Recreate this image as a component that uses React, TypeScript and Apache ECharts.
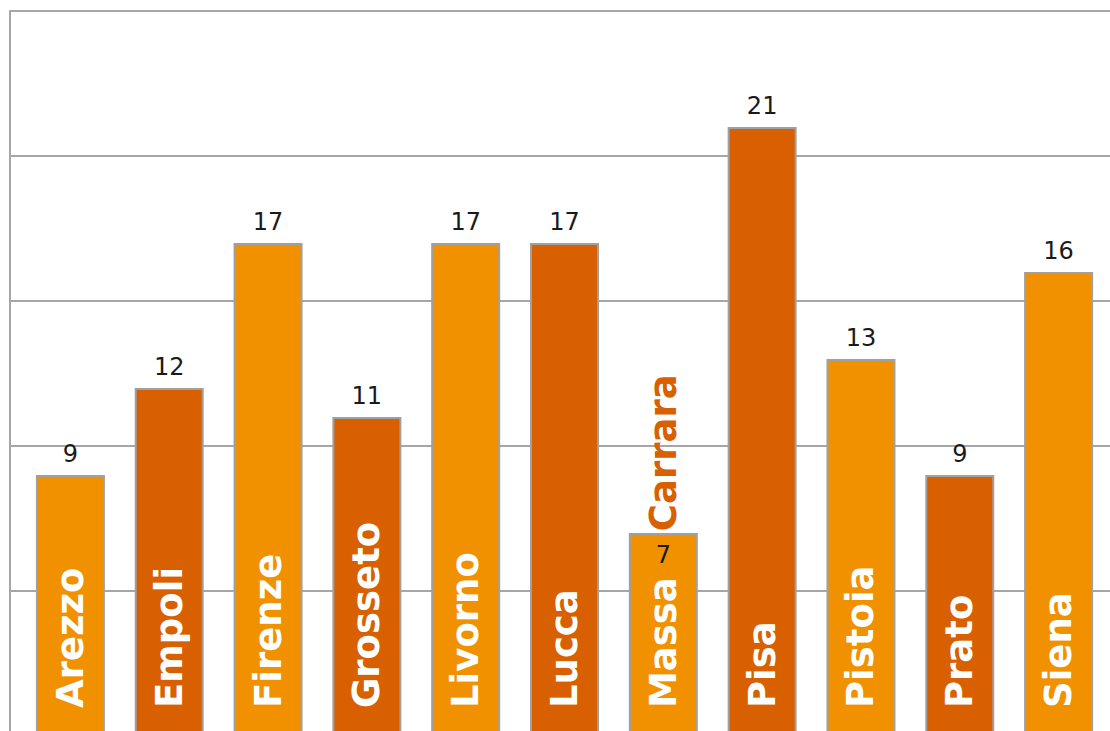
import React, { useEffect, useRef } from "react";
import * as echarts from "echarts";

const categories = ["Arezzo", "Empoli", "Firenze", "Grosseto", "Livorno", "Lucca", "Massa Carrara", "Pisa", "Pistoia", "Prato", "Siena"];
const values = [9, 12, 17, 11, 17, 17, 7, 21, 13, 9, 16];
const yTicks = [0, 5, 10, 15, 20, 25];

const LIGHT = "#F29100";
const DARK = "#D86000";
const GRID = "#A6A6A6";
const FONT = "DejaVu Sans";

export default function App() {
  const ref = useRef<HTMLDivElement>(null);
  useEffect(() => {
    if (!ref.current) return;
    const chart = echarts.init(ref.current, undefined, { renderer: "svg" });
    const yMin = yTicks[0];
    const yMax = yTicks[yTicks.length - 1];
    const yInt = yTicks[1] - yTicks[0];

    const barData = values.map((v, i) => {
      const item: any = {
        value: v,
        itemStyle: { color: i % 2 === 0 ? LIGHT : DARK },
      };
      if (categories[i] === "Massa Carrara") {
        item.label = {
          formatter: "{w|Massa}{s| }{c|Carrara}",
          rich: {
            w: { color: "#fff", fontSize: 37, fontWeight: "bold", fontFamily: FONT },
            s: { width: 46, fontSize: 37 },
            c: { color: DARK, fontSize: 37, fontWeight: "bold", fontFamily: FONT },
          },
        };
      }
      return item;
    });

    const valueData = values.map((v, i) => {
      const item: any = { value: v };
      if (categories[i] === "Massa Carrara") {
        item.label = { position: "insideTop", distance: 10 };
      }
      return item;
    });

    chart.setOption({
      animation: false,
      grid: [
        { left: 10, right: 0, top: 11, bottom: 24, outerBoundsMode: "none" },
        { left: 21, right: 2, top: 11, bottom: 24, outerBoundsMode: "none" },
      ],
      xAxis: [
        { type: "value", gridIndex: 0, show: false },
        { type: "category", gridIndex: 1, data: categories, show: false },
      ],
      yAxis: [
        {
          type: "value",
          gridIndex: 0,
          min: yMin,
          max: yMax,
          interval: yInt,
          axisLine: { show: true, lineStyle: { color: GRID, width: 2 } },
          axisTick: { show: false },
          axisLabel: { show: false },
          splitLine: { show: true, lineStyle: { color: GRID, width: 2 } },
        },
        {
          type: "value",
          gridIndex: 1,
          min: yMin,
          max: yMax,
          interval: yInt,
          show: false,
          splitLine: { show: false },
        },
      ],
      series: [
        {
          type: "bar",
          xAxisIndex: 1,
          yAxisIndex: 1,
          data: barData,
          barWidth: 69,
          itemStyle: { borderColor: "#A0A0A0", borderWidth: 2 },
          label: {
            show: true,
            position: "insideBottom",
            rotate: 90,
            align: "left",
            verticalAlign: "middle",
            distance: 28,
            formatter: (p: any) => p.name,
            color: "#fff",
            fontSize: 37,
            fontWeight: "bold",
            fontFamily: FONT,
          },
          silent: true,
        },
        {
          type: "bar",
          xAxisIndex: 1,
          yAxisIndex: 1,
          data: valueData,
          barWidth: 69,
          barGap: "-100%",
          itemStyle: { color: "transparent" },
          label: {
            show: true,
            position: "top",
            distance: 9,
            color: "#1a1a1a",
            fontSize: 24,
            fontFamily: FONT,
          },
          silent: true,
        },
      ],
    });
    return () => chart.dispose();
  }, []);
  return (
    <div
      style={{ position: "fixed", left: 0, top: 0, width: 1110, height: 731, overflow: "hidden", background: "#fff" }}
    >
      <div ref={ref} style={{ width: 1110, height: 760 }} />
    </div>
  );
}
